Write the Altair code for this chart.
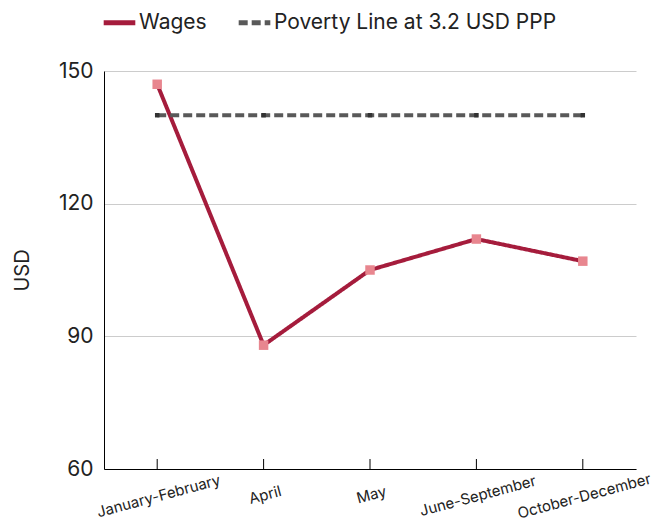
import altair as alt
import pandas as pd

periods = ["January-February", "April", "May", "June-September", "October-December"]
wages = [147, 88, 105, 112, 107]
poverty = [140, 140, 140, 140, 140]
series_names = ["Wages", "Poverty Line at 3.2 USD PPP"]

rows = []
for p, w in zip(periods, wages):
    rows.append({"period": p, "value": w, "series": series_names[0]})
for p, v in zip(periods, poverty):
    rows.append({"period": p, "value": v, "series": series_names[1]})
df = pd.DataFrame(rows)
ticks_df = pd.DataFrame({"period": periods})

FONT = "Inter"
W, H = 532, 398

x_enc = alt.X(
    "period:N",
    sort=periods,
    scale=alt.Scale(type="point", padding=0.5),
    axis=alt.Axis(
        title=None, labelAngle=-15, labelFontSize=15, labelColor="#222",
        labelAlign="center", labelBaseline="middle", labelOffset=1,
        ticks=False, domainColor="black",
        labelPadding=alt.ExprRef("25 + 0.1*length(datum.label)"), grid=False,
        labelFont=FONT, labelLimit=400,
    ),
)
y_enc = alt.Y(
    "value:Q",
    scale=alt.Scale(domain=[60, 150], nice=False, zero=False),
    axis=alt.Axis(
        title="USD", values=[60, 90, 120, 150], labelFontSize=21, titleFontSize=20,
        titleFontWeight="normal", labelColor="#222", titleColor="#222",
        ticks=False, domainColor="black", gridColor="#cccccc", labelPadding=11,
        titlePadding=26, labelFont=FONT, titleFont=FONT,
    ),
)

color_scale = alt.Scale(domain=series_names, range=["#A51C3C", "#595959"])
dash_scale = alt.Scale(domain=series_names, range=[[1, 0], [9, 4]])
legend = alt.Legend(
    title=None, orient="none", direction="horizontal", legendX=-3, legendY=-67,
    labelFontSize=21, labelFont=FONT, labelColor="#222",
    symbolStrokeWidth=5, symbolSize=1000, columnPadding=21,
    symbolType="stroke", labelLimit=600, labelOffset=1,
)

lines = alt.Chart(df).mark_line(strokeWidth=4).encode(
    x=x_enc,
    y=y_enc,
    color=alt.Color("series:N", scale=color_scale, legend=legend, sort=series_names),
    strokeDash=alt.StrokeDash("series:N", scale=dash_scale, legend=legend, sort=series_names),
)

wage_pts = alt.Chart(df[df.series == series_names[0]]).mark_square(
    size=90, color="#E8868F", opacity=1
).encode(x=alt.X("period:N", sort=periods), y="value:Q")

pov_pts = alt.Chart(df[df.series == series_names[1]]).mark_square(
    size=20, color="#333333", opacity=1
).encode(x=alt.X("period:N", sort=periods), y="value:Q")

inner_ticks = alt.Chart(ticks_df).mark_rule(color="black", strokeWidth=1).encode(
    x=alt.X("period:N", sort=periods),
    y=alt.value(H - 10),
    y2=alt.value(H),
)

chart = alt.layer(lines, wage_pts, pov_pts, inner_ticks).properties(
    width=W, height=H,
    autosize=alt.AutoSizeParams(type="none"),
    padding={"left": 96, "top": 63, "right": 17, "bottom": 53},
).configure(font=FONT, view=alt.ViewConfig(stroke=None))

chart.save("out.html", embed_options={"renderer": "svg", "actions": False})
